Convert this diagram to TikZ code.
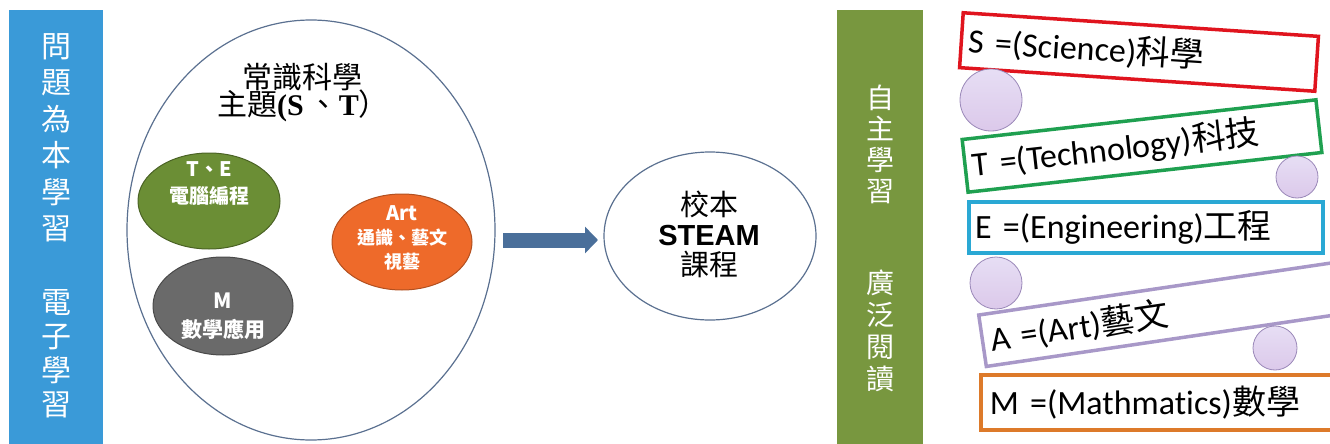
\documentclass[tikz,border=0pt]{standalone}
\usepackage{fontspec}
\usetikzlibrary{shapes.geometric,arrows.meta}
\newfontfamily\cjk{Noto Sans CJK TC}
\newfontfamily\carl{Carlito}[Ligatures=NoCommon]
\newfontfamily\arial{Liberation Sans}
\newfontfamily\tnr{Liberation Serif}
\definecolor{barblue}{HTML}{3A9AD8}
\definecolor{bargreen}{HTML}{78973F}
\definecolor{elgreen}{HTML}{6B8E35}
\definecolor{elorange}{HTML}{EE6A2A}
\definecolor{elgray}{HTML}{6A6A6A}
\definecolor{edgeblue}{HTML}{5A7090}
\definecolor{arrowblue}{HTML}{4A6F9A}
\definecolor{bred}{HTML}{E0141E}
\definecolor{bgreen}{HTML}{1FA050}
\definecolor{bcyan}{HTML}{2AA8D4}
\definecolor{bpurple}{HTML}{A898C8}
\definecolor{borange}{HTML}{DD7A2A}
\definecolor{lav}{HTML}{DCD0F0}
\definecolor{lavedge}{HTML}{9A88B8}
\tikzset{
  vbar/.style={inner sep=0pt, outer sep=0pt},
  vtext/.style={text=white, align=center, inner sep=0pt},
  subell/.style={ellipse, draw, line width=1pt, text=white, align=center, inner sep=0pt},
  bigell/.style={ellipse, draw=edgeblue, line width=1.2pt, inner sep=0pt},
  lbox/.style={draw=#1, line width=3.5pt, fill=white, inner sep=0pt, text width=342pt, align=left, minimum height=53pt, minimum width=356pt, font=\carl\fontsize{34}{36}\selectfont},
  bubble/.style={circle, draw=lavedge, line width=0.8pt, top color=lav!70!white, bottom color=lav!90!violet!80, inner sep=0pt},
}
\begin{document}
\begin{tikzpicture}[x=1pt,y=-1pt]
\useasboundingbox (0,0) rectangle (1330,444);
% left blue bar
\node[vbar, fill=barblue, minimum width=94pt, minimum height=434pt, anchor=north west] (lbar) at (9,10) {};
\node[vtext, font=\cjk\fontsize{30}{36.5}\selectfont] (lt1) at (56,138) {問\\題\\為\\本\\學\\習};
\node[vtext, font=\cjk\fontsize{30}{34}\selectfont] (lt2) at (56,354) {電\\子\\學\\習};
% big ellipse
\node[bigell, minimum width=368pt, minimum height=420pt] (big) at (311,230) {};
\node[font=\cjk\fontsize{30}{32}\selectfont, inner sep=0pt] (title1) at (302,77) {常識科學};
\node[font=\cjk\fontsize{30}{32}\selectfont, inner sep=0pt] (title2) at (303,106) {主題{\tnr\bfseries(S}\,、{\tnr\bfseries T}）};
% sub ellipses
\node[subell, fill=elgreen, draw=elgreen!70!black, minimum width=142pt, minimum height=96pt] (te) at (209,201) {};
\node[font=\cjk\bfseries\fontsize{20}{23}\selectfont, text=white, align=center, inner sep=0pt] (tet) at (209,184) {T、E\\[4pt]電腦編程};
\node[subell, fill=elorange, draw=elorange!75!black, minimum width=140pt, minimum height=96pt] (art) at (402,242) {};
\node[font=\cjk\bfseries\fontsize{18}{24}\selectfont, text=white, align=center, inner sep=0pt] (artt) at (402,238) {{\fontsize{20}{24}\selectfont Art}\\通識、藝文\\視藝};
\node[subell, fill=elgray, draw=elgray!70!black, minimum width=140pt, minimum height=98pt] (m) at (223,306) {};
\node[font=\cjk\bfseries\fontsize{21}{25}\selectfont, text=white, align=center, inner sep=0pt] (mt) at (223,316) {M\\[4pt]數學應用};
% arrow
\coordinate (astart) at (503,240);
\coordinate (aend) at (598,240);
\draw[arrowblue, line width=15pt, -{Triangle[length=13pt,width=26pt]}] (astart) -- (aend);
% STEAM ellipse
\node[bigell, minimum width=212pt, minimum height=168pt] (steam) at (710,236) {};
\node[align=center, inner sep=0pt, font=\cjk\fontsize{29}{30}\selectfont] (steamt) at (709,234) {校本\\{\arial\bfseries\fontsize{29}{30}\selectfont STEAM}\\課程};
% green bar
\node[vbar, fill=bargreen, minimum width=86pt, minimum height=434pt, anchor=north west] (gbar) at (837,10) {};
\node[vtext, font=\cjk\fontsize{28}{31}\selectfont] (gt1) at (880,144) {自\\主\\學\\習};
\node[vtext, font=\cjk\fontsize{28}{32}\selectfont] (gt2) at (880,331) {廣\\泛\\閱\\讀};
% letter boxes
\node[lbox=bred, rotate=-3.8, minimum height=55pt] (sbox) at (1139,52) {S =(Science){\cjk 科學}};
\node[lbox=bgreen, rotate=6.4] (tbox) at (1142,146) {T =(Technology){\cjk 科技}};
\node[lbox=bcyan, minimum width=354pt, minimum height=51pt] (ebox) at (1146,227.5) {E =(Engineering){\cjk 工程}};
\node[lbox=bpurple, rotate=8.4, minimum width=358pt, minimum height=52pt] (abox) at (1159.6,314.6) {A =(Art){\cjk 藝文}};
\node[lbox=borange, minimum width=360pt, minimum height=55pt, anchor=west] (mbox) at (979,402.5) {M =(Mathmatics){\cjk 數學}};
% bubbles
\node[bubble, minimum size=62pt] (b1) at (991,100) {};
\node[bubble, minimum size=42pt] (b2) at (1297,177) {};
\node[bubble, minimum size=52pt] (b3) at (996,283) {};
\node[bubble, minimum size=44pt] (b4) at (1275,348) {};
\end{tikzpicture}
\end{document}
